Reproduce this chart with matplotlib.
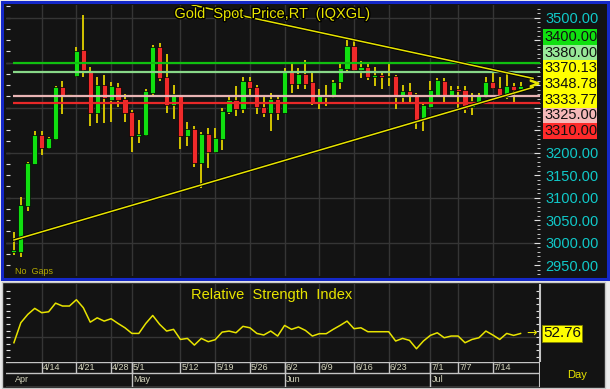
import numpy as np
import pandas as pd
import matplotlib
matplotlib.use('Agg')
import matplotlib.pyplot as plt
import matplotlib.patheffects as pe
import matplotlib.transforms as mtransforms
from matplotlib.patches import Rectangle
from matplotlib.ticker import MultipleLocator, FuncFormatter

# ---- datos ----
dates = pd.bdate_range('2025-04-08', '2025-07-18')

opens = [2980, 2980, 3082, 3175, 3239, 3210, 3230, 3345, 3328, 3370,
         3428, 3381, 3288, 3350, 3317, 3345, 3320, 3290, 3237, 3239,
         3333, 3434, 3369, 3306, 3327, 3236, 3252, 3176, 3241, 3202,
         3230, 3291, 3317, 3296, 3360, 3345, 3302, 3288, 3319, 3289,
         3380, 3353, 3375, 3356, 3313, 3326, 3323, 3356, 3385, 3436,
         3384, 3390, 3369, 3373, 3368, 3370, 3323, 3336, 3330, 3272,
         3302, 3328, 3360, 3328, 3341, 3339, 3302, 3313, 3324, 3358,
         3344, 3323, 3347, 3341]
highs = [3024, 3101, 3180, 3247, 3247, 3235, 3347, 3360, 3329, 3434,
         3506, 3391, 3369, 3373, 3356, 3354, 3330, 3295, 3273, 3341,
         3439, 3443, 3419, 3350, 3328, 3267, 3259, 3245, 3254, 3254,
         3299, 3324, 3347, 3369, 3369, 3350, 3326, 3333, 3326, 3388,
         3397, 3388, 3406, 3380, 3341, 3350, 3362, 3402, 3450, 3450,
         3404, 3400, 3391, 3380, 3399, 3373, 3350, 3354, 3332, 3308,
         3360, 3365, 3365, 3348, 3347, 3347, 3332, 3333, 3369, 3378,
         3367, 3380, 3354, 3356]
lows = [2973, 2968, 3070, 3174, 3195, 3208, 3228, 3285, 3327, 3368,
        3369, 3259, 3265, 3265, 3267, 3301, 3267, 3202, 3222, 3237,
        3323, 3360, 3288, 3274, 3208, 3215, 3168, 3121, 3165, 3200,
        3206, 3286, 3282, 3288, 3328, 3286, 3279, 3247, 3273, 3288,
        3333, 3341, 3341, 3306, 3296, 3303, 3321, 3341, 3382, 3382,
        3365, 3362, 3348, 3341, 3347, 3296, 3313, 3309, 3253, 3249,
        3300, 3327, 3313, 3323, 3298, 3289, 3284, 3311, 3322, 3341,
        3322, 3319, 3313, 3339]
closes = [2984, 3084, 3176, 3239, 3210, 3232, 3345, 3328, 3328, 3425,
          3384, 3288, 3350, 3321, 3347, 3317, 3288, 3237, 3241, 3336,
          3434, 3365, 3306, 3330, 3236, 3252, 3176, 3241, 3202, 3232,
          3293, 3317, 3296, 3360, 3344, 3301, 3288, 3319, 3288, 3382,
          3353, 3375, 3353, 3310, 3326, 3323, 3358, 3388, 3436, 3384,
          3390, 3369, 3373, 3369, 3370, 3323, 3336, 3328, 3272, 3306,
          3339, 3362, 3328, 3339, 3338, 3298, 3315, 3326, 3358, 3343,
          3323, 3347, 3339, 3349]

rsi = [45.7, 61.0, 67.3, 71.9, 68.6, 69.3, 75.9, 73.7, 73.7, 78.5,
       72.4, 61.4, 64.7, 62.2, 64.0, 60.4, 57.1, 52.8, 52.8, 60.4,
       66.5, 59.7, 54.6, 55.9, 48.2, 49.0, 43.9, 49.0, 46.5, 48.0,
       53.8, 54.6, 53.3, 58.2, 57.1, 52.8, 51.6, 54.6, 50.8, 58.9,
       55.9, 57.7, 55.1, 50.8, 52.6, 52.6, 55.9, 58.9, 62.2, 56.4,
       57.1, 54.1, 54.1, 54.1, 54.1, 47.0, 49.0, 47.5, 41.1, 47.0,
       51.3, 53.3, 49.5, 50.8, 50.8, 45.7, 48.2, 49.5, 54.6, 51.6,
       48.2, 52.8, 51.3, 52.76]
rsi_last = 52.76

tick_dates = ['2025-04-14', '2025-04-21', '2025-04-28', '2025-05-01', '2025-05-12',
              '2025-05-19', '2025-05-26', '2025-06-02', '2025-06-09', '2025-06-16',
              '2025-06-23', '2025-07-01', '2025-07-07', '2025-07-14']
tick_labels = ['4/14', '4/21', '4/28', '5/1', '5/12', '5/19', '5/26', '6/2',
               '6/9', '6/16', '6/23', '7/1', '7/7', '7/14']
month_dates = ['2025-04-08', '2025-05-01', '2025-06-02', '2025-07-01']
month_labels = ['Apr', 'May', 'Jun', 'Jul']

levels = [3400, 3380, 3325, 3310]
level_colors = ['#10c010', '#88d888', '#e8b4b4', '#e82828']
box_values = [3400.00, 3380.00, 3370.13, 3348.78, 3333.77, 3325.00, 3310.00]
box_colors = ['#10e010', '#98e898', '#ffff00', '#ffff00', '#ffff00', '#f4b8b8', '#ff2a2a']
axis_labels = [3500, 3200, 3150, 3100, 3050, 3000, 2950]

# lineas de tendencia (indice de vela, precio)
upper_x = [25.7, 74.8]
upper_y = [3528, 3365]
lower_x = [0, 74.8]
lower_y = [3006, 3345]

# ---- configuracion ----
W, H = 610, 389
plt.rcParams['font.family'] = ['Liberation Sans', 'DejaVu Sans']

def fx(x):
	return x / W

def fy(y):
	return 1 - y / H

BG = '#131313'
GRID = '#353535'
YEL = '#e8e400'
WICK = '#d4c400'

fig = plt.figure(figsize=(W / 100, H / 100), dpi=100, facecolor='#ececec')

# paneles de fondo
fig.patches.append(Rectangle((fx(1.5), fy(278.5)), 606 / W, 277 / H, transform=fig.transFigure,
                             facecolor=BG, edgecolor='#1428c8', linewidth=2.2, zorder=-2))
fig.patches.append(Rectangle((fx(2), fy(388)), 603 / W, 106 / H, transform=fig.transFigure,
                             facecolor=BG, edgecolor='#c8c8c8', linewidth=1.0, zorder=-2))

idx = np.arange(len(dates))
tick_idx = [dates.get_loc(pd.Timestamp(d)) for d in tick_dates]
month_idx = [dates.get_loc(pd.Timestamp(d)) for d in month_dates]
xlim = (-1.14, 75.8)

# ---- panel de precio ----
ax = fig.add_axes([fx(6), fy(276), 534 / W, 271 / H])
ax.set_facecolor(BG)
ax.set_xlim(*xlim)
ax.set_ylim(2926, 3528)
for s in ax.spines.values():
	s.set_visible(False)

for v in [3000, 3100, 3200, 3300, 3400, 3500]:
	ax.axhline(v, color=GRID, lw=1, zorder=0.5)
for t in tick_idx:
	ax.axvline(t, color=GRID, lw=1, zorder=0.5)

o = np.array(opens, dtype=float)
c = np.array(closes, dtype=float)
h = np.array(highs, dtype=float)
l = np.array(lows, dtype=float)
cols = np.where(c > o, '#10e010', np.where(c < o, '#f02a2a', YEL))
ax.vlines(idx, l, h, color=WICK, lw=1.4, zorder=2)
ax.bar(idx, np.maximum(np.abs(c - o), 1.8), bottom=np.minimum(o, c), width=0.74,
       color=cols, edgecolor='#000000', linewidth=0.5, zorder=3)

for v, col in zip(levels, level_colors):
	ax.hlines(v, -0.1, xlim[1], color=col, lw=1.6, zorder=4)

stroke = [pe.withStroke(linewidth=2.4, foreground='#000000')]
ax.plot(upper_x, upper_y, color=YEL, lw=1.1, zorder=5, path_effects=stroke)
ax.plot(lower_x, lower_y, color=YEL, lw=1.1, zorder=5, path_effects=stroke)
ax.plot([upper_x[-1] + 0.2], [(upper_y[-1] + lower_y[-1]) / 2], marker='$>$', ms=6,
        color=YEL, zorder=5)

# ejes
ax.yaxis.tick_right()
ax.yaxis.set_major_locator(MultipleLocator(50))
ax.yaxis.set_minor_locator(MultipleLocator(10))
ax.yaxis.set_major_formatter(FuncFormatter(lambda v, p: f'{v:.2f}' if int(round(v)) in axis_labels else ''))
ax.tick_params(axis='y', which='major', direction='in', length=4, color='#e0e0e0',
               labelcolor='#10c8c8', labelsize=10.5, pad=4)
ax.tick_params(axis='y', which='minor', direction='in', length=2.5, color='#e0e0e0')
ax.tick_params(axis='x', length=0, labelbottom=False)

sec = ax.secondary_yaxis('left')
sec.set_yticks(np.arange(2950, 3526, 25))
sec.tick_params(direction='in', length=3, color='#e0e0e0', labelleft=False)
sec.spines['left'].set_visible(False)

# etiquetas en caja
blend = mtransforms.blended_transform_factory(fig.transFigure, ax.transData)
box_h = 34.9
center = np.mean(box_values)
for i, (v, col) in enumerate(zip(box_values, box_colors)):
	cy = center + (3 - i) * box_h
	fig.patches.append(Rectangle((fx(543), cy - box_h / 2), 54 / W, box_h, transform=blend,
	                             facecolor=col, edgecolor='none', zorder=3))
	fig.text(fx(544.5), cy, f'{v:.2f}', transform=blend, ha='left', va='center',
	         fontsize=10.5, color='#101010', zorder=4)

fig.text(fx(273), fy(14), 'Gold  Spot  Price,RT  (IQXGL)', ha='center', va='center',
         fontsize=10.5, color=YEL, zorder=6,
         path_effects=[pe.withStroke(linewidth=2, foreground='#000000')])
fig.text(fx(15), fy(272), 'No  Gaps', ha='left', va='center', fontsize=6.5, color='#b4aa00')

# ---- panel RSI ----
ax_rsi = fig.add_axes([fx(6), fy(362), 534 / W, 78 / H])
ax_rsi.set_facecolor(BG)
ax_rsi.set_xlim(*xlim)
ax_rsi.set_ylim(31, 90.5)
for s in ax_rsi.spines.values():
	s.set_visible(False)
ax_rsi.axhline(50, color=GRID, lw=1, zorder=0.5)
for t in tick_idx:
	ax_rsi.axvline(t, color=GRID, lw=1, zorder=0.5)
ax_rsi.plot(idx, rsi, color=YEL, lw=1.1, zorder=3)
ax_rsi.set_yticks(np.arange(35, 86, 5))
ax_rsi.tick_params(axis='y', which='both', left=True, right=True, direction='in', length=3,
                   color='#e0e0e0', labelleft=False, labelright=False)
ax_rsi.tick_params(axis='x', length=0, labelbottom=False)

blend_r = mtransforms.blended_transform_factory(fig.transFigure, ax_rsi.transData)
fig.text(fx(543), rsi_last, f'{rsi_last:.2f}', transform=blend_r, ha='left', va='center',
         fontsize=11, color='#101010',
         bbox=dict(boxstyle='square,pad=0.08', facecolor='#ffff00', edgecolor='#808000', linewidth=0.6))
fig.text(fx(532), rsi_last, '→', transform=blend_r, ha='center', va='center',
         fontsize=9, color=YEL, family='DejaVu Sans')
fig.text(fx(272), fy(295), 'Relative  Strength  Index', ha='center', va='center',
         fontsize=10.5, color=YEL)
fig.text(fx(577), fy(375), 'Day', ha='center', va='center', fontsize=8, color=YEL)

# ---- eje de fechas ----
ax_dt = fig.add_axes([fx(6), fy(387), 534 / W, 25 / H])
ax_dt.set_facecolor(BG)
ax_dt.set_xlim(*xlim)
ax_dt.set_ylim(0, 25)
ax_dt.axis('off')
LC = '#c4c4c4'
ax_dt.axhline(24.6, color=LC, lw=1)
ax_dt.axhline(14, color=LC, lw=1)
ax_dt.axhline(0.4, color=LC, lw=1)
ax_dt.axvline(xlim[1], color=LC, lw=1.5)
for t, lab in zip(tick_idx, tick_labels):
	ax_dt.vlines(t, 14, 25, color=LC, lw=1)
	ax_dt.text(t + 0.15, 19.2, lab, ha='left', va='center', fontsize=6.5, color='#d4d4bc')
for k, (t, lab) in enumerate(zip(month_idx, month_labels)):
	if k > 0:
		ax_dt.vlines(t, 0, 25, color=LC, lw=1)
	ax_dt.text(t + 0.2, 7, lab, ha='left', va='center', fontsize=6.5, color='#d4d4bc')
ax_rsi.vlines(xlim[1], 31, 90.5, color=LC, lw=1.5, clip_on=False)

plt.savefig('out.png', dpi=100, facecolor=fig.get_facecolor())
